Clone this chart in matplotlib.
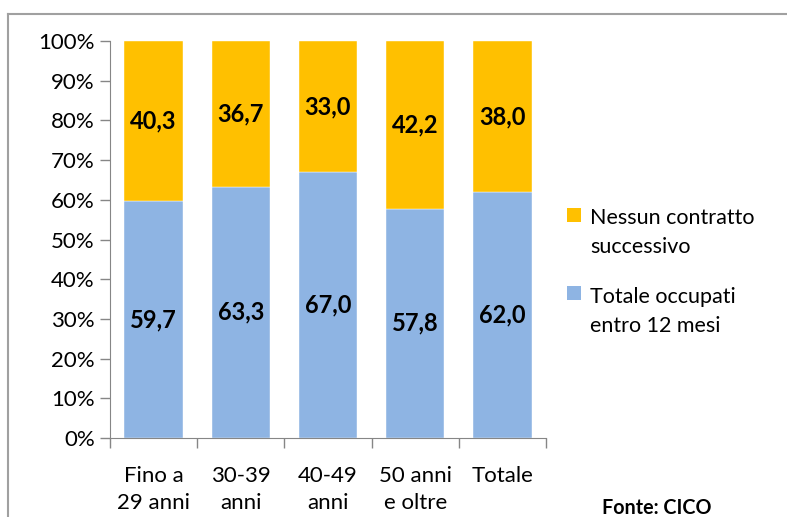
import matplotlib
matplotlib.use("Agg")
import matplotlib.pyplot as plt
from matplotlib.patches import Rectangle
from matplotlib.lines import Line2D

plt.rcParams['font.family'] = ['Lato', 'DejaVu Sans']

categories = ["Fino a\n29 anni", "30-39\nanni", "40-49\nanni", "50 anni\ne oltre", "Totale"]
occupati = [59.7, 63.3, 67.0, 57.8, 62.0]
nessun = [40.3, 36.7, 33.0, 42.2, 38.0]
series_names = ["Nessun contratto\nsuccessivo", "Totale occupati\nentro 12 mesi"]

col_blue = "#8EB4E3"
col_orange = "#FFC000"

W, H = 787, 517
fig = plt.figure(figsize=(W/100, H/100), dpi=100)
ax = fig.add_axes([110/W, 1-438/H, 436/W, 397/H])

x = list(range(len(categories)))
w = 0.67
ax.bar(x, occupati, width=w, color=col_blue, edgecolor="white", linewidth=0.3,
       label=series_names[1])
ax.bar(x, nessun, width=w, bottom=occupati, color=col_orange, edgecolor="white",
       linewidth=0.3, label=series_names[0])

fmt = lambda v: f"{v:.1f}".replace(".", ",")
for i in x:
    ax.text(i, occupati[i]/2, fmt(occupati[i]), ha="center", va="center",
            fontsize=17, fontweight="bold", color="black")
    ax.text(i, occupati[i] + nessun[i]/2, fmt(nessun[i]), ha="center", va="center",
            fontsize=17, fontweight="bold", color="black")

ax.set_xlim(-0.5, len(categories)-0.5)
ax.set_ylim(0, 100)
ax.set_yticks(range(0, 101, 10))
ax.set_yticklabels([f"{v}%" for v in range(0, 101, 10)])
ax.set_xticks(x)
ax.set_xticklabels(categories, linespacing=1.45)
ax.set_xticks([i - 0.5 for i in range(len(categories)+1)], minor=True)
ax.tick_params(axis="x", which="major", length=0, labelsize=16, pad=20)
ax.tick_params(axis="x", which="minor", length=7, color="#868686", width=1)
ax.tick_params(axis="y", length=7, color="#868686", width=1, labelsize=16, pad=4)
for s in ["top", "right"]:
    ax.spines[s].set_visible(False)
ax.spines["left"].set_color("#868686")
ax.spines["bottom"].set_color("#868686")

# legend (square aligned with the first line of each label, as in the original)
legend_items = [(series_names[0], col_orange, 208, 253), (series_names[1], col_blue, 286, 332)]
for name, col, ytop, ybase in legend_items:
    fig.add_artist(Rectangle((567/W, 1-(ytop+14)/H), 14/W, 14/H,
                             transform=fig.transFigure, facecolor=col, edgecolor="none"))
    fig.text(590/W, 1-ybase/H, name, fontsize=15.5, ha="left", va="baseline",
             linespacing=1.55, transform=fig.transFigure)

fig.text(602/W, 1-514/H, "Fonte: CICO", fontsize=14.2, fontweight="bold",
         ha="left", va="baseline")

# outer chart frame (top and left edges visible)
fig.add_artist(Line2D([8/W, 1], [1-14/H, 1-14/H], transform=fig.transFigure,
                      color="#A0A0A0", linewidth=1.5))
fig.add_artist(Line2D([8/W, 8/W], [0, 1-14/H], transform=fig.transFigure,
                      color="#A0A0A0", linewidth=1.5))

fig.savefig("out.png", dpi=100)
